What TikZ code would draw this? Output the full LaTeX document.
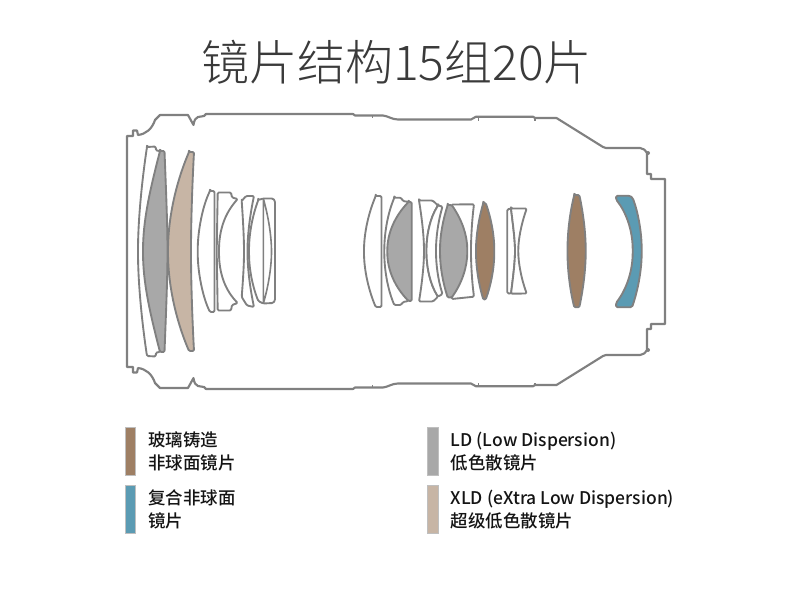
\documentclass[tikz,border=0pt]{standalone}
\usepackage{fontspec}
\setmainfont{Noto Sans CJK SC Medium}
\newfontfamily\titlefont{Noto Sans CJK SC Light}
\definecolor{linegray}{HTML}{808080}
\definecolor{glassbrown}{HTML}{9E7F64}
\definecolor{hybridblue}{HTML}{5B9BB3}
\definecolor{ldgray}{HTML}{A8A8A8}
\definecolor{xldtan}{HTML}{C7B5A5}
\definecolor{titletext}{HTML}{3A3A3A}
\definecolor{legendtext}{HTML}{141414}
\tikzset{
  barrel/.style={draw=linegray,line width=1.6pt,line join=round,fill=none},
  lens/.style={draw=linegray,line width=1.4pt,line join=round,fill=white,rounded corners=0.9pt},
  lensline/.style={draw=linegray,line width=1.2pt},
  swatch/.style={draw=black!25,line width=0.5pt},
  legend/.style={anchor=base west,inner sep=0pt,font=\fontsize{13.1}{13.1}\selectfont,text=legendtext},
}
\begin{document}
\begin{tikzpicture}[x=0.75pt,y=-0.75pt]
\useasboundingbox (0,0) rectangle (790,600);
% title
\node[anchor=base,inner sep=0pt,text=titletext,font=\fontsize{36}{36}\selectfont\titlefont] (title) at (396.5,80.5) {镜片结构15组20片};
% barrel
\draw[barrel] (127,251.5) -- (127,136) -- (133,136) -- (133,130.5) -- (137,130.5) -- (138,135)
 .. controls (146,134) and (152,129) .. (155,120) -- (160,115) -- (188,115) -- (193.5,125)
 .. controls (194,120) and (196,117.5) .. (198,117) -- (204,116) -- (206,114) -- (353,114) -- (355,115.5) -- (383,115.5)
 .. controls (388,116) and (392,119.5) .. (398,119.5) -- (471,119.5) -- (476,116.7) -- (533,116.7) -- (535,118) -- (556.5,118)
 -- (603,147) .. controls (604,148) and (605,148) .. (606,148) -- (640,148) .. controls (643,148) and (645,150) .. (647,153)
 -- (647,174) -- (651,174) -- (651,179) -- (665,179) -- (665,324) -- (651,324) -- (651,329) -- (647,329) -- (647,350)
 .. controls (645,353) and (643,355) .. (640,355) -- (606,355) .. controls (605,355) and (604,355) .. (603,356) -- (556.5,385)
 -- (535,385) -- (533,386.3) -- (476,386.3) -- (471,383.5) -- (398,383.5)
 .. controls (392,383.5) and (388,387) .. (383,387.5) -- (355,387.5) -- (353,389) -- (206,389) -- (204,387) -- (198,386)
 .. controls (196,385.5) and (194,383) .. (193.5,378) -- (188,388) -- (160,388) -- (155,383)
 .. controls (152,374) and (146,369) .. (138,368) -- (137,372.5) -- (133,372.5) -- (133,367) -- (127,367) -- cycle;
\draw[barrel,line width=1.2pt] (372.3,115.5) -- (372.3,118) (478.3,117) -- (478.3,120.5) (535,118) -- (535,120.5)
  (372.3,387.5) -- (372.3,385) (478.3,386) -- (478.3,382.5) (535,385) -- (535,382.5);
\fill[linegray] (648,153) circle (2) (648,350) circle (2);
% front group
\draw[lens] (147,147) -- (155.7,146.5) -- (156,150.5) -- (160,151) -- (160,352) -- (156,352.5) -- (155.7,356.5) -- (147,356)
 .. controls (142,323) and (138,283) .. (138,251.5) .. controls (138,220) and (142,180) .. (147,147) -- cycle;
\draw[lens,fill=ldgray] (160,151) -- (164.5,151) .. controls (166,190) and (167.5,225) .. (167.5,251.5)
 .. controls (167.5,278) and (166,313) .. (164.5,352) -- (160,352)
 .. controls (150,313) and (143,283) .. (143,251.5) .. controls (143,220) and (150,190) .. (160,151) -- cycle;
\draw[lens,fill=xldtan] (189,152) -- (194,152) .. controls (192,190) and (191,225) .. (191,251.5)
 .. controls (191,278) and (192,313) .. (194,351) -- (189,351)
 .. controls (175,318) and (168,283) .. (168,251.5) .. controls (168,220) and (175,185) .. (189,152) -- cycle;
% second group
\draw[lens] (210,191) -- (214.5,191) -- (214.5,312) -- (210,312)
 .. controls (203,298) and (197.7,273) .. (197.7,251.5) .. controls (197.7,230) and (203,205) .. (210,191) -- cycle;
\draw[lens] (217.7,192.5) -- (231,192.5) -- (232,197.5) -- (237.7,199)
 .. controls (226,212) and (219,228) .. (219,251.5) .. controls (219,275) and (226,291) .. (237.7,303)
 -- (232,305) -- (231,310.5) -- (217.7,310.5) -- (216.7,251.5) -- cycle;
\draw[lens] (241.7,201) -- (246,196) -- (254,196) .. controls (250,215) and (247.5,235) .. (247.5,251.5)
 .. controls (247.5,268) and (250,288) .. (254,307) -- (247,305.5) -- (241.7,297) .. controls (243,280) and (244,265) .. (244,251.5)
 .. controls (244,238) and (243,220) .. (241.7,201) -- cycle;
\draw[lens] (258.3,200) -- (263.3,198.5) -- (273,198.5) -- (275,201) -- (275,300.5) -- (273,303) -- (263.3,303.5) -- (258.3,301)
 .. controls (252,285) and (249,268) .. (249,251.5) .. controls (249,235) and (252,217) .. (258.3,200) -- cycle;
\draw[lensline] (263.3,198.5) -- (263.3,303.5)
 (263.3,198.5) .. controls (268,215) and (271.5,235) .. (271.5,251.5) .. controls (271.5,268) and (268,288) .. (263.3,303.5);
% third group
\draw[lens] (375.7,196) -- (381.5,196) -- (381.5,307) -- (375.7,307)
 .. controls (369,291) and (364,271) .. (364,251.5) .. controls (364,232) and (369,212) .. (375.7,196) -- cycle;
\draw[lens] (394.3,197.7) -- (401,197.7) -- (403,201) -- (408.5,202) -- (408.5,301) -- (403,302) -- (401,305) -- (394.3,305)
 .. controls (388,290) and (384.3,271) .. (384.3,251.5) .. controls (384.3,232) and (388,213) .. (394.3,197.7) -- cycle;
\draw[lens,fill=ldgray] (408.5,202) -- (411.7,202) -- (411.7,301) -- (408.5,301)
 .. controls (395,287) and (387.3,270) .. (387.3,251.5) .. controls (387.3,233) and (395,216) .. (408.5,202) -- cycle;
\draw[lens] (419,200.5) -- (432.7,200.5) -- (438,205.5) .. controls (430,218) and (426.5,235) .. (426.5,251)
 .. controls (426.5,267) and (430,284) .. (438,296.7) -- (433,301.5) -- (419,301.5)
 .. controls (422,283) and (424,265) .. (424,251) .. controls (424,237) and (422,219) .. (419,200.5) -- cycle;
\draw[lens] (438,205.5) -- (442.5,206.5) .. controls (438,222) and (436,238) .. (436,251)
 .. controls (436,264) and (438,280) .. (442.5,294) -- (438,296.7) .. controls (430,284) and (426.5,267) .. (426.5,251)
 .. controls (426.5,235) and (430,218) .. (438,205.5) -- cycle;
\draw[lens] (451.7,204.5) -- (474,204.3) .. controls (472,220) and (471,238) .. (471,251) .. controls (471,264) and (472,282) .. (474,296.7)
 -- (451.7,299) -- cycle;
\draw[lens,fill=ldgray] (447.7,205) -- (451.7,205) .. controls (462,220) and (467.3,235) .. (467.3,251)
 .. controls (467.3,267) and (462,283) .. (451.7,297.5) -- (447.7,297.5)
 .. controls (443,283) and (440,267) .. (440,251) .. controls (440,235) and (443,220) .. (447.7,205) -- cycle;
\draw[lens,fill=glassbrown] (483.3,203) -- (485.7,203) .. controls (491,218) and (494.3,235) .. (494.3,251)
 .. controls (494.3,268) and (491,285) .. (485.7,299.5) -- (483.3,299.5)
 .. controls (479,285) and (476,268) .. (476,251) .. controls (476,235) and (479,218) .. (483.3,203) -- cycle;
\draw[lens] (507.3,209.3) -- (511,208.5) .. controls (513,225) and (515,240) .. (515,251) .. controls (515,262) and (513,278) .. (511,293.7)
 -- (507.3,293.3) -- cycle;
\draw[lens] (511,208.5) -- (526.7,208.5) .. controls (521,225) and (518.3,240) .. (518.3,251)
 .. controls (518.3,262) and (521,278) .. (526.7,293.5) -- (511,293.7)
 .. controls (513,278) and (515,262) .. (515,251) .. controls (515,240) and (513,225) .. (511,208.5) -- cycle;
% rear lenses
\draw[lens,fill=glassbrown] (574.3,195) -- (579.3,195) .. controls (583,212) and (585.7,232) .. (585.7,251)
 .. controls (585.7,270) and (583,290) .. (579.3,307.3) -- (574.3,307.3)
 .. controls (570,290) and (567.5,270) .. (567.5,251) .. controls (567.5,232) and (570,212) .. (574.3,195) -- cycle;
\draw[lens,fill=hybridblue,rounded corners=1.2pt] (616,195.7) -- (630,195.7) -- (632.7,198)
 .. controls (638,212) and (641.7,232) .. (641.7,251) .. controls (641.7,270) and (638,290) .. (632,307.3) -- (616,307.3) -- (616,303)
 .. controls (626,290) and (632.7,272) .. (632.7,251) .. controls (632.7,230) and (626,212) .. (616,199.5) -- cycle;
% legend
\draw[swatch,fill=glassbrown] (125,427) rectangle (135.5,475);
\draw[swatch,fill=hybridblue] (125,485) rectangle (135.5,533);
\draw[swatch,fill=ldgray] (427,427) rectangle (438,475);
\draw[swatch,fill=xldtan] (427,485) rectangle (438,533);
\node[legend] (a1) at (148,446) {玻璃铸造};
\node[legend] (a2) at (148,469) {非球面镜片};
\node[legend] (b1) at (148,504) {复合非球面};
\node[legend] (b2) at (148,527) {镜片};
\node[legend] (c1) at (450.5,446) {LD (Low Dispersion)};
\node[legend] (c2) at (450.5,469) {低色散镜片};
\node[legend] (d1) at (450.5,504) {XLD (eXtra Low Dispersion)};
\node[legend] (d2) at (450.5,527) {超级低色散镜片};
\end{tikzpicture}
\end{document}
